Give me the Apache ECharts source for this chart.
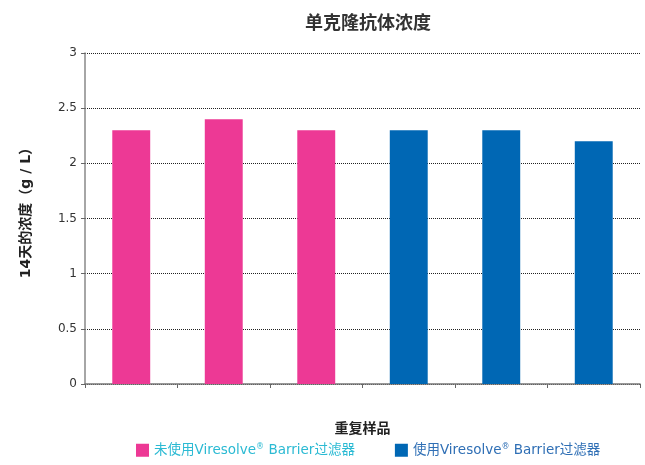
<!DOCTYPE html>
<html><head><meta charset="utf-8">
<script src="https://cdn.jsdelivr.net/npm/echarts@6/dist/echarts.min.js"></script>
<style>html,body{margin:0;padding:0;background:#fff}#c{width:645px;height:465px}</style>
</head><body><div id="c"></div>
<script>
var categories = ['1','2','3','4','5','6'];
var seriesNames = ['未使用Viresolve® Barrier过滤器','使用Viresolve® Barrier过滤器'];
var withoutFilter = [2.3, 2.4, 2.3, '-', '-', '-'];
var withFilter = ['-', '-', '-', 2.3, 2.3, 2.2];
var yTicks = [0, 0.5, 1, 1.5, 2, 2.5, 3];

var chart = echarts.init(document.getElementById('c'));
var font = '"Noto Sans CJK SC", "Noto Sans", sans-serif';
var mixFont = '"DejaVu Sans", "Noto Sans CJK SC", sans-serif';
function supRich(color) {
  return {
    t: {fontFamily: mixFont, fontSize: 13.5, color: color},
    sup: {fontFamily: mixFont, fontSize: 8, color: color, padding: [0, 0, 7, 0]}
  };
}
chart.setOption({
  animation: false,
  title: {text: '单克隆抗体浓度', left: 363, top: 8, textAlign: 'center',
    textStyle: {fontFamily: font, fontSize: 18, fontWeight: 'bold', color: '#333'}},
  grid: {left: 85, right: 5, top: 53, bottom: 81},
  legend: {bottom: 3, left: 131, itemWidth: 13, itemHeight: 13, itemGap: 40, icon: 'rect',
    formatter: function(n){ var p = n.split('®'); return '{t|' + p[0] + '}{sup|®}{t|' + p[1] + '}'; },
    data: [{name: seriesNames[0], textStyle: {color: '#2bbad3', rich: supRich('#2bbad3')}},
           {name: seriesNames[1], textStyle: {color: '#2f6fb5', rich: supRich('#2f6fb5')}}],
    textStyle: {fontFamily: mixFont, fontSize: 13.5}},
  xAxis: {type: 'category', data: categories, name: '重复样品', nameLocation: 'middle', nameGap: 37,
    nameTextStyle: {fontFamily: font, fontSize: 14, fontWeight: 'bold', color: '#222'},
    axisLabel: {show: false},
    axisTick: {show: true, alignWithLabel: false, length: 4, lineStyle: {color: '#666'}},
    axisLine: {lineStyle: {color: '#777', width: 1.5}}},
  yAxis: {type: 'value', min: 0, max: 3, interval: 0.5,
    name: '14天的浓度（g / L）', nameLocation: 'middle', nameGap: 52, nameRotate: 90,
    nameTextStyle: {fontFamily: mixFont, fontSize: 14, fontWeight: 'bold', color: '#222', padding: [0, 0, 0, 18]},
    axisLabel: {fontFamily: '"DejaVu Sans", sans-serif', fontSize: 12, color: '#333', margin: 8,
      formatter: function(v){ return yTicks.indexOf(v) >= 0 ? String(v) : ''; }},
    axisLine: {show: true, lineStyle: {color: '#888', width: 1.5}},
    axisTick: {show: true, length: 4, lineStyle: {color: '#666'}},
    splitLine: {lineStyle: {color: '#222', type: [1, 1], width: 1}}},
  series: [
    {name: seriesNames[0], type: 'bar', stack: 's', data: withoutFilter, barWidth: '41%',
      itemStyle: {color: '#ed3995'}},
    {name: seriesNames[1], type: 'bar', stack: 's', data: withFilter, barWidth: '41%',
      itemStyle: {color: '#0067b4'}}
  ]
});
</script></body></html>
